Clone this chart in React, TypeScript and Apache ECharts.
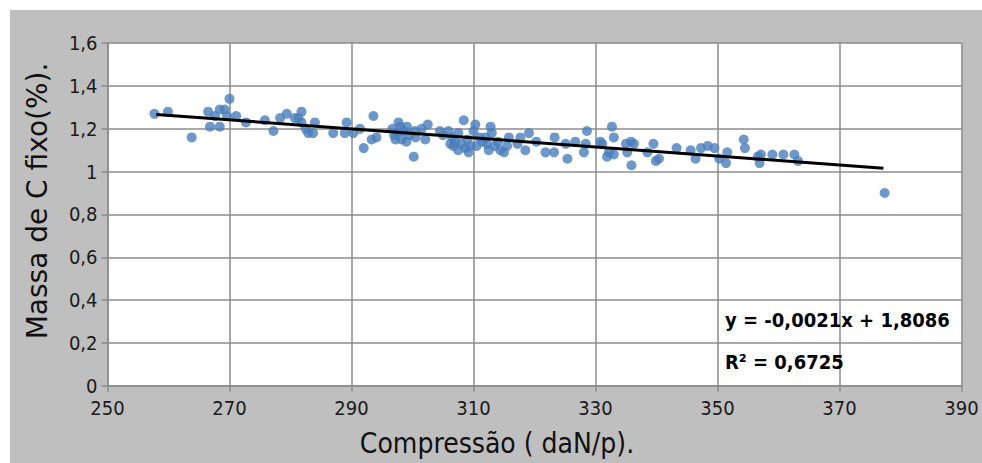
import React, { useEffect, useRef } from "react";
import * as echarts from "echarts";

// Compressão (daN/p) for each sample
const compressao = [
  257.7, 259.9, 263.8, 266.5, 266.8, 268.4, 268.4, 267.6, 269.2, 270.0, 269.6, 271.1, 272.7, 275.8, 277.2, 278.3, 279.4, 280.7,
  281.8, 281.3, 281.8, 282.9, 283.7, 284.0, 282.5, 287.0, 288.9, 289.2, 290.3, 291.4, 292.0, 293.6, 293.3, 294.1,
  296.7, 297.7, 297.2, 298.2, 299.1, 300.2, 300.4, 301.5, 302.5, 302.1, 304.5, 305.9, 306.2,
  297.5, 298.5, 299.5, 298.0, 299.0, 300.5, 297.0,
  308.4, 306.7, 307.0, 308.7, 309.2, 310.3, 310.0, 312.8, 313.0, 312.2, 312.5, 314.4, 315.0, 315.8, 317.2, 317.7, 318.5,
  319.1, 320.3, 321.8, 323.3, 323.2, 325.1, 325.4, 326.7, 328.1, 328.6, 328.4, 330.8, 331.9, 332.2,
  305.0, 306.5, 307.5, 308.0, 309.0, 309.5, 307.5, 310.5, 311.0, 313.5, 314.0, 312.0, 315.5, 311.5,
  332.7, 333.0, 333.0, 331.1, 335.0, 335.8, 336.3, 335.9, 335.2, 338.5, 339.5, 339.9, 340.4, 343.3, 345.6, 346.4,
  347.3, 348.4, 349.5, 350.3, 351.6, 351.4, 354.3, 354.5, 356.6, 356.9,
  357.1, 359.0, 360.8, 362.6, 363.2, 377.4,
];

// Massa de C fixo (%) for each sample
const massaCFixo = [
  1.27, 1.28, 1.16, 1.28, 1.21, 1.29, 1.21, 1.26, 1.29, 1.34, 1.26, 1.26, 1.23, 1.24, 1.19, 1.25, 1.27, 1.25,
  1.28, 1.25, 1.23, 1.18, 1.18, 1.23, 1.2, 1.18, 1.18, 1.23, 1.18, 1.2, 1.11, 1.26, 1.15, 1.16,
  1.2, 1.23, 1.15, 1.15, 1.21, 1.07, 1.19, 1.2, 1.22, 1.15, 1.19, 1.19, 1.13,
  1.18, 1.19, 1.17, 1.21, 1.14, 1.16, 1.17,
  1.24, 1.12, 1.14, 1.11, 1.09, 1.22, 1.19, 1.21, 1.18, 1.13, 1.1, 1.1, 1.09, 1.16, 1.13, 1.16, 1.1,
  1.18, 1.14, 1.09, 1.16, 1.09, 1.13, 1.06, 1.14, 1.09, 1.19, 1.13, 1.14, 1.07, 1.09,
  1.17, 1.16, 1.18, 1.13, 1.15, 1.12, 1.1, 1.12, 1.16, 1.12, 1.14, 1.16, 1.12, 1.14,
  1.21, 1.16, 1.08, 1.13, 1.13, 1.14, 1.13, 1.03, 1.09, 1.09, 1.13, 1.05, 1.06, 1.11, 1.1, 1.06,
  1.11, 1.12, 1.11, 1.06, 1.09, 1.04, 1.15, 1.11, 1.07, 1.04,
  1.08, 1.08, 1.08, 1.08, 1.05, 0.9,
];

// Linear trend line end points (as drawn)
const trendX = [258, 377.2];
const trendY = [1.267, 1.016];

const equationText = "y = -0,0021x + 1,8086";
const r2Text = "R² = 0,6725";
const xTitle = "Compressão ( daN/p).";
const yTitle = "Massa de C fixo(%).";

const narrow = '"Liberation Sans Narrow", "DejaVu Sans Condensed", "Roboto Condensed", sans-serif';

export default function App() {
  const ref = useRef<HTMLDivElement>(null);

  useEffect(() => {
    if (!ref.current) return;
    const chart = echarts.init(ref.current, null, { renderer: "svg" });
    const points = compressao.map((x, i) => [x, massaCFixo[i]]);
    const trend = trendX.map((x, i) => [x, trendY[i]]);

    chart.setOption({
      animation: false,
      backgroundColor: "#ffffff",
      graphic: [
        {
          type: "rect",
          z: -100,
          silent: true,
          shape: { x: 10, y: 10, width: 972, height: 453 },
          style: { fill: "#bfbfbf" },
        },
        {
          type: "text",
          x: 37,
          y: 201,
          rotation: Math.PI / 2,
          z: 10,
          style: {
            text: yTitle,
            font: '28px "DejaVu Sans", sans-serif',
            fill: "#111",
            textAlign: "center",
            textVerticalAlign: "middle",
          },
        },
        {
          type: "text",
          x: 497,
          y: 443,
          z: 10,
          style: {
            text: xTitle,
            font: `28px ${narrow}`,
            fill: "#111",
            textAlign: "center",
            textVerticalAlign: "middle",
          },
        },
        {
          type: "text",
          x: 725,
          y: 320,
          z: 10,
          style: {
            text: equationText,
            font: `bold 20px ${narrow}`,
            fill: "#000",
            textAlign: "left",
            textVerticalAlign: "middle",
          },
        },
        {
          type: "text",
          x: 725,
          y: 362,
          z: 10,
          style: {
            text: r2Text,
            font: `bold 20px ${narrow}`,
            fill: "#000",
            textAlign: "left",
            textVerticalAlign: "middle",
          },
        },
      ],
      grid: {
        left: 107.5,
        right: 20.5,
        top: 43.2,
        bottom: 77.3,
        show: true,
        backgroundColor: "#ffffff",
        borderWidth: 0,
      },
      xAxis: {
        type: "value",
        min: 250,
        max: 390,
        interval: 20,
        axisLine: { show: true, onZero: false, lineStyle: { color: "#8c8c8c", width: 1.5 } },
        axisTick: { show: true, length: 6, lineStyle: { color: "#8c8c8c", width: 1.5 } },
        splitLine: { show: true, lineStyle: { color: "#8c8c8c", width: 1.5 } },
        axisLabel: {
          margin: 12,
          fontSize: 20,
          fontFamily: narrow,
          color: "#1a1a1a",
        },
      },
      yAxis: {
        type: "value",
        min: 0,
        max: 1.6,
        interval: 0.2,
        axisLine: { show: true, lineStyle: { color: "#8c8c8c", width: 1.5 } },
        axisTick: { show: true, length: 6, lineStyle: { color: "#8c8c8c", width: 1.5 } },
        splitLine: { show: true, lineStyle: { color: "#8c8c8c", width: 1.5 } },
        axisLabel: {
          margin: 10,
          fontSize: 20,
          fontFamily: narrow,
          color: "#1a1a1a",
          formatter: (v: number) => String(Math.round(v * 10) / 10).replace(".", ","),
        },
      },
      series: [
        {
          type: "scatter",
          data: points,
          symbol: "circle",
          symbolSize: 10,
          itemStyle: { color: "#4a7ebb" },
          z: 3,
        },
        {
          type: "line",
          data: trend,
          symbol: "none",
          lineStyle: { color: "#000000", width: 3 },
          z: 4,
        },
      ],
    });
    return () => chart.dispose();
  }, []);

  return (
    <div
      ref={ref}
      style={{ position: "fixed", left: 0, top: 0, width: 982, height: 463 }}
    />
  );
}
